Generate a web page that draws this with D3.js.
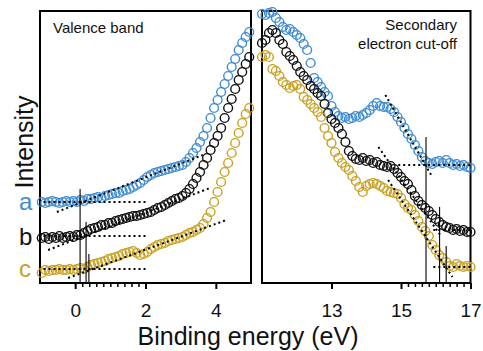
<!DOCTYPE html>
<html>
<head>
<meta charset="utf-8">
<script src="https://cdn.jsdelivr.net/npm/d3@7"></script>
<style>
  html, body { margin: 0; padding: 0; background: #fff; }
  svg { display: block; font-family: "Liberation Sans", Arial, sans-serif; }
</style>
</head>
<body>
<svg id="chart" width="483" height="351"></svg>
<script>
// binding energies (eV) of the sampled points
const leftEnergy = [-0.95,-0.85,-0.75,-0.65,-0.55,-0.45,-0.35,-0.25,-0.15,-0.05,
  0.05,0.15,0.25,0.35,0.45,0.55,0.65,0.75,0.85,0.95,
  1.05,1.15,1.25,1.35,1.45,1.55,1.65,1.75,1.85,1.95,
  2.05,2.15,2.25,2.35,2.45,2.55,2.65,2.75,2.85,2.95,
  3.05,3.15,3.25,3.35,3.45,3.55,3.65,3.75,3.85,3.95,
  4.05,4.15,4.25,4.35,4.45,4.55,4.65,4.75,4.85,4.95];
const rightEnergy = [11.0,11.1,11.2,11.3,11.4,11.5,11.6,11.7,11.8,11.9,
  12.0,12.1,12.2,12.3,12.4,12.5,12.6,12.7,12.8,12.9,
  13.0,13.1,13.2,13.3,13.4,13.5,13.6,13.7,13.8,13.9,
  14.0,14.1,14.2,14.3,14.4,14.5,14.6,14.7,14.8,14.9,
  15.0,15.1,15.2,15.3,15.4,15.5,15.6,15.7,15.8,15.9,
  16.0,16.1,16.2,16.3,16.4,16.5,16.6,16.7,16.8,16.9,17.0];

// intensities (arb. units, offset per sample)
const valenceA = [81,80,81,82,81,80,81,82,81,82, 81,83,82,84,84,85,86,85,87,88,
  89,90,90,92,93,94,96,98,100,103, 106,108,110,111,112,113,114,115,116,117,
  118,121,125,130,135,141,147,155,165,175, 183,191,199,207,216,224,233,240,246,251];
const valenceB = [45,46,44,46,45,47,45,46,47,46, 48,48,50,52,54,55,56,58,58,60,
  60,62,63,64,65,66,67,67,68,69, 70,71,73,75,76,78,80,82,84,85,
  87,90,94,99,105,111,118,125,133,140, 147,155,165,175,184,194,203,211,219,226];
const valenceC = [10,13,12,13,13,14,13,13,14,13, 14,15,14,16,18,19,20,21,22,24,
  25,26,27,29,30,31,32,30,28,29, 31,34,36,38,39,40,42,43,44,45,
  46,48,50,51,53,55,59,65,71,81, 91,101,111,120,130,140,150,160,169,175];

const cutoffA = [269,268,270,271,265,261,256,253,254,251, 248,245,239,233,220,205,201,196,191,187,
  177,171,167,165,166,164,165,167,166,168, 170,173,177,180,177,176,176,174,171,166,
  161,155,149,144,138,132,126,122,120,119, 121,122,120,123,120,118,119,117,118,116,115];
const cutoffB = [240,243,250,253,250,243,239,231,227,223, 217,211,207,203,197,194,190,187,179,170,
  164,160,155,149,141,132,127,124,123,125, 122,123,120,121,118,117,116,117,114,110,
  106,102,99,93,87,82,78,75,72,68, 64,61,58,56,55,53,54,52,53,51,51];
const cutoffC = [226,228,226,214,212,207,201,198,195,197, 198,194,186,183,179,175,171,166,155,147,
  140,131,125,120,116,113,107,102,96,91, 97,99,100,99,97,95,92,91,90,89,
  85,79,75,73,68,62,56,52,47,38, 33,28,25,21,17,16,19,17,16,17,16];

// dotted fit lines [x1, y1, x2, y2]
const leftFits = [
  [-0.9, 81, 2.0, 81], [-0.52, 71, 3.63, 128],
  [-0.9, 47, 2.0, 47], [-0.77, 33, 3.83, 95],
  [-0.9, 14, 2.0, 14], [-0.2, 5, 4.3, 63]
];
const rightFits = [
  [14.92, 118, 17.0, 118], [14.55, 188, 15.9, 106],
  [15.93, 53, 17.0, 53], [14.35, 136, 16.15, 47],
  [15.93, 16, 17.0, 16], [14.63, 103, 16.48, 6]
];
// onset markers [energy, top intensity]
const leftMarks = [[0.14, 94], [0.31, 61], [0.39, 29]];
const rightMarks = [[15.72, 146], [16.11, 76], [16.3, 37]];

const leftTicks = [0, 2, 4];
const rightTicks = [13, 15, 17];
const leftMinor = [0.2,0.4,0.6,0.8,1.0,1.2,1.4,1.6,1.8];
const rightMinor = [15.2,15.4,15.6,15.8,16.0,16.2,16.4,16.6,16.8];

const seriesNames = ["a", "b", "c"];
const colours = ["#3d8bd1", "#111111", "#c9a020"];

const svg = d3.select("#chart");
const y = d3.scaleLinear().domain([0, 272]).range([283, 11]);
const xL = d3.scaleLinear().domain([-1, 5]).range([40, 251]);
const xR = d3.scaleLinear().domain([11, 17]).range([262, 470.5]);

function panel(x, energy, series, fits, marks, ticks, minor) {
  const g = svg.append("g");
  const [x0, x1] = x.range();
  g.append("rect").attr("x", x0).attr("y", y(272)).attr("width", x1 - x0).attr("height", y(0) - y(272))
    .attr("fill", "none").attr("stroke", "#000").attr("stroke-width", 2);

  const major = g.append("g").attr("transform", `translate(0,${y(0)})`)
    .call(d3.axisBottom(x).tickValues(ticks).tickSize(6).tickFormat(d3.format("d")));
  major.select(".domain").remove();
  major.selectAll("line").attr("stroke-width", 2);
  major.selectAll("text").attr("y", 34).attr("dy", 0).attr("font-size", 19)
    .attr("font-family", "Liberation Sans, Arial, sans-serif").attr("fill", "#111");

  const mn = g.append("g").attr("transform", `translate(0,${y(0)})`)
    .call(d3.axisBottom(x).tickValues(minor).tickSize(4).tickFormat(""));
  mn.select(".domain").remove();
  mn.selectAll("line").attr("stroke-width", 1.5);

  series.forEach((vals, i) => {
    g.append("g").selectAll("circle")
      .data(vals.map((v, j) => [energy[j], v]))
      .join("circle")
      .attr("cx", d => x(d[0])).attr("cy", d => y(d[1])).attr("r", 4.4)
      .attr("fill", "none").attr("stroke", colours[i]).attr("stroke-width", 1.4);
  });

  g.append("g").selectAll("line.fit").data(fits).join("line")
    .attr("x1", d => x(d[0])).attr("y1", d => y(d[1]))
    .attr("x2", d => x(d[2])).attr("y2", d => y(d[3]))
    .attr("stroke", "#000").attr("stroke-width", 2).attr("stroke-dasharray", "2 3");

  g.append("g").selectAll("line.mark").data(marks).join("line")
    .attr("x1", d => x(d[0])).attr("x2", d => x(d[0]))
    .attr("y1", d => y(d[1])).attr("y2", y(0))
    .attr("stroke", "#000").attr("stroke-width", 1.1);
}

panel(xL, leftEnergy, [valenceA, valenceB, valenceC], leftFits, leftMarks, leftTicks, leftMinor);
panel(xR, rightEnergy, [cutoffA, cutoffB, cutoffC], rightFits, rightMarks, rightTicks, rightMinor);

svg.append("text").attr("x", 53).attr("y", 33).attr("font-size", 15).attr("fill", "#111").text("Valence band");
svg.append("text").attr("x", 457).attr("y", 30).attr("font-size", 15).attr("text-anchor", "end").attr("fill", "#111").text("Secondary");
svg.append("text").attr("x", 457).attr("y", 49).attr("font-size", 15).attr("text-anchor", "end").attr("fill", "#111").text("electron cut-off");

svg.append("text").attr("transform", "translate(33,142) rotate(-90)")
  .attr("text-anchor", "middle").attr("font-size", 25).attr("fill", "#111").text("Intensity");
svg.append("text").attr("x", 248).attr("y", 345).attr("text-anchor", "middle")
  .attr("font-size", 25).attr("fill", "#111").text("Binding energy (eV)");

const labelY = [210, 245, 277];
svg.append("g").selectAll("text").data(seriesNames).join("text")
  .attr("x", 19).attr("y", (d, i) => labelY[i]).attr("font-size", 24)
  .attr("fill", (d, i) => colours[i]).text(d => d);
</script>
</body>
</html>
